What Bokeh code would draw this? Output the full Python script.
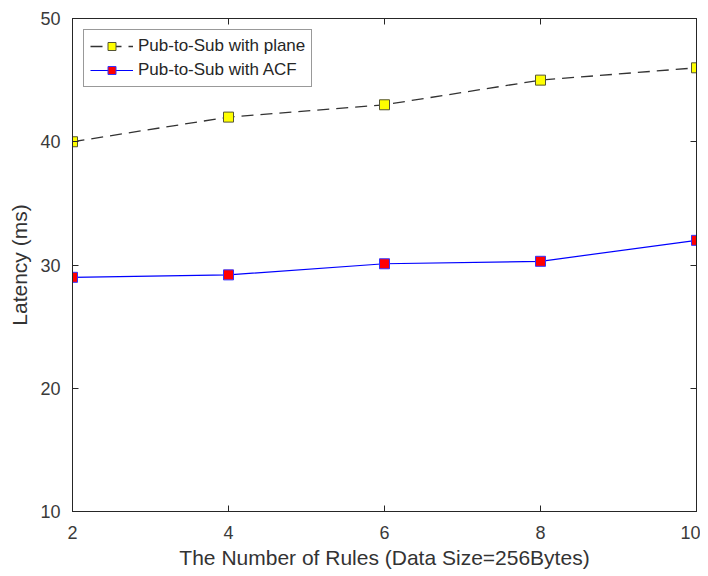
from bokeh.plotting import figure
from bokeh.models import LinearAxis, Range1d, FixedTicker, Legend, LegendItem
from bokeh.embed import file_html
from bokeh.resources import INLINE

rules = [2, 4, 6, 8, 10]
plane_latency = [40, 42, 43, 45, 46]
acf_latency = [29.0, 29.2, 30.1, 30.3, 32.0]
x_ticks = [2, 4, 6, 8, 10]
y_ticks = [10, 20, 30, 40, 50]

FONT = "Liberation Sans"
AX = "#262626"

p = figure(width=700, height=576, output_backend="svg", toolbar_location=None,
           x_range=Range1d(2, 10), y_range=Range1d(10, 50),
           min_border_left=72, min_border_right=4, min_border_top=18, min_border_bottom=65)
p.grid.visible = False
p.outline_line_color = AX
p.outline_line_width = 1

for ax, ticks in ((p.xaxis[0], x_ticks), (p.yaxis[0], y_ticks)):
    ax.ticker = FixedTicker(ticks=ticks)
    ax.major_tick_in = 6
    ax.major_tick_out = 0
    ax.minor_tick_in = 0
    ax.minor_tick_out = 0
    ax.axis_line_color = AX
    ax.major_tick_line_color = AX
    ax.major_label_text_font = FONT
    ax.major_label_text_font_size = "18px"
    ax.major_label_text_color = "#3a3a3a"
    ax.axis_label_text_font = FONT
    ax.axis_label_text_font_size = "21px"
    ax.axis_label_text_font_style = "normal"
    ax.axis_label_text_color = "#333333"

p.xaxis.axis_label = "The Number of Rules (Data Size=256Bytes)"
p.yaxis.axis_label = "Latency (ms)"
p.xaxis.major_label_standoff = 14
p.yaxis.major_label_standoff = 12
p.xaxis.axis_label_standoff = 4
p.yaxis.axis_label_standoff = 6

top = LinearAxis(ticker=FixedTicker(ticks=x_ticks), major_tick_in=6, major_tick_out=0,
                 minor_tick_in=0, minor_tick_out=0,
                 major_label_overrides={t: "" for t in x_ticks},
                 axis_line_color=AX, major_tick_line_color=AX, major_label_standoff=0)
right = LinearAxis(ticker=FixedTicker(ticks=y_ticks), major_tick_in=6, major_tick_out=0,
                   minor_tick_in=0, minor_tick_out=0,
                   major_label_overrides={t: "" for t in y_ticks},
                   axis_line_color=AX, major_tick_line_color=AX, major_label_standoff=0)
p.add_layout(top, "above")
p.add_layout(right, "right")

l1 = p.line(rules, plane_latency, line_color="#333333", line_width=1.3, line_dash="12 7")
s1 = p.scatter(rules, plane_latency, marker="square", size=10, fill_color="#ffff00",
               line_color="#555533", line_width=1)
l2 = p.line(rules, acf_latency, line_color="#0000ff", line_width=1.2)
s2 = p.scatter(rules, acf_latency, marker="square", size=10, fill_color="#ff0000",
               line_color="#3333ff", line_width=1)

legend = Legend(items=[
    LegendItem(label="Pub-to-Sub with plane", renderers=[l1, s1]),
    LegendItem(label="Pub-to-Sub with ACF", renderers=[l2, s2]),
], location="top_left")
legend.label_text_font = FONT
legend.label_text_font_size = "17px"
legend.label_text_color = AX
legend.border_line_color = "#333333"
legend.border_line_width = 1
legend.margin = 11
legend.padding = 6
legend.spacing = 4
legend.glyph_width = 43
legend.glyph_height = 20
legend.label_standoff = 5
legend.label_height = 20
p.add_layout(legend)

open("out.html", "w").write(file_html(p, INLINE))
